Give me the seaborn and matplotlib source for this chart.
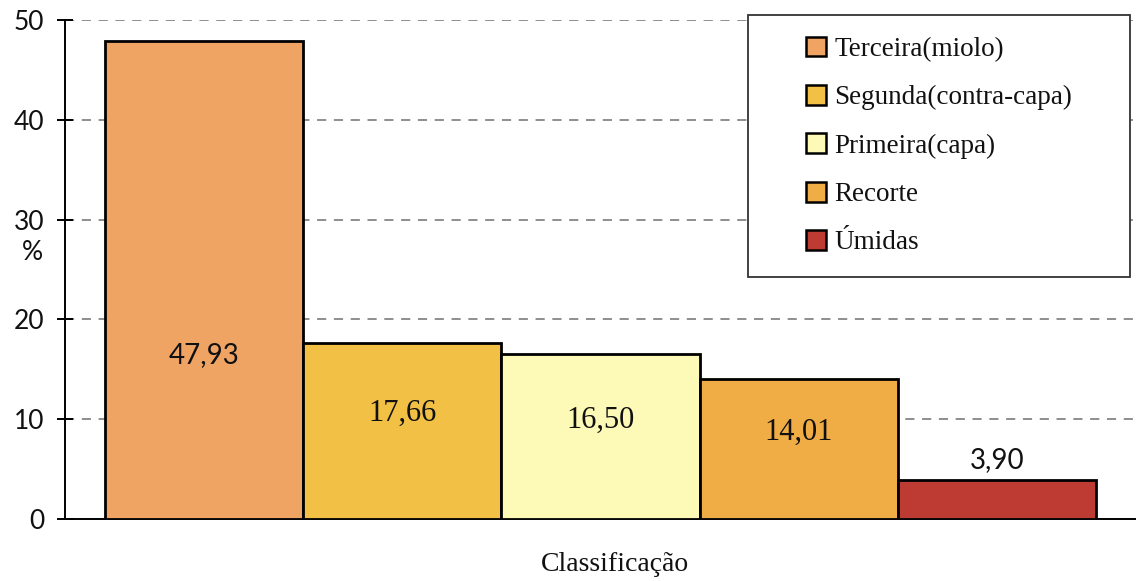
import matplotlib
matplotlib.use("Agg")
import matplotlib.pyplot as plt
from matplotlib.patches import Patch, Rectangle
import pandas as pd
import seaborn as sns

# Paper classification shares (%)
categories = ["Terceira(miolo)", "Segunda(contra-capa)", "Primeira(capa)", "Recorte", "Úmidas"]
percentages = [47.93, 17.66, 16.50, 14.01, 3.90]
value_labels = ["47,93", "17,66", "16,50", "14,01", "3,90"]
bar_colors = ["#EFA464", "#F1C045", "#FDF9B6", "#F0AC45", "#BD3B33"]
y_ticks = [0, 10, 20, 30, 40, 50]

sns.set_theme(style="white")
serif = ["Liberation Serif", "DejaVu Serif"]
sans = ["Lato", "DejaVu Sans"]

fig, ax = plt.subplots(figsize=(11.36, 5.81), dpi=100)
fig.subplots_adjust(left=0.0572, right=1.0, bottom=0.1067, top=0.9656)

df = pd.DataFrame({"Classificação": categories, "pct": percentages})
sns.barplot(data=df, x="Classificação", y="pct", hue="Classificação",
            palette=bar_colors, saturation=1, width=1.0, edgecolor="black",
            linewidth=2, legend=False, ax=ax, zorder=3)

ax.set_xlim(-0.7, 4.7)
ax.set_ylim(0, 50)
ax.set_yticks(y_ticks)
ax.set_yticklabels([str(t) for t in y_ticks], fontfamily=sans, fontsize=19,
                   color="#111111")
ax.set_xticks([])

# dashed horizontal grid behind the bars
ax.set_axisbelow(True)
ax.yaxis.grid(True, linestyle=(0, (6, 5)), color="#707070", linewidth=1.1)
ax.xaxis.grid(False)

for side in ("top", "right"):
    ax.spines[side].set_visible(False)
for side in ("left", "bottom"):
    ax.spines[side].set_color("black")
    ax.spines[side].set_linewidth(1.4)
ax.tick_params(axis="y", direction="inout", length=12, width=1.4,
               color="black", pad=9, left=True)

# value labels inside / above the bars
label_y = [16.4, 10.6, 9.9, 8.7, 5.9]
label_fonts = [sans, serif, serif, serif, sans]
label_sizes = [20, 22, 22, 22, 20]
for i, (txt, y) in enumerate(zip(value_labels, label_y)):
    ax.text(i, y, txt, ha="center", va="center", fontfamily=label_fonts[i],
            fontsize=label_sizes[i], color="#111111", zorder=5)

ax.set_ylabel("%", rotation=0, fontfamily=sans, fontsize=19, ha="center",
              va="center", color="#111111")
ax.yaxis.set_label_coords(-0.030, 0.535)
ax.set_xlabel("Classificação", fontfamily=serif, fontsize=20, va="center",
              color="#111111")
ax.xaxis.set_label_coords(0.5135, -0.092)

# legend box with a plain square frame
frame = Rectangle((0.6377, 0.485), 0.3567, 0.525, transform=ax.transAxes,
                  facecolor="white", edgecolor="#333333", linewidth=1.3,
                  zorder=6, clip_on=False)
ax.add_patch(frame)
handles = [Patch(facecolor=c, edgecolor="black", linewidth=1.8) for c in bar_colors]
leg = ax.legend(handles, categories, loc="center", bbox_to_anchor=(0.816, 0.7475),
                frameon=False, prop={"family": serif, "size": 19.5},
                handlelength=0.75, handleheight=0.75, handletextpad=0.3,
                labelspacing=0.85, borderaxespad=0)
for t in leg.get_texts():
    t.set_color("#111111")
leg.set_zorder(7)

fig.savefig("out.png", dpi=100, facecolor="white")
